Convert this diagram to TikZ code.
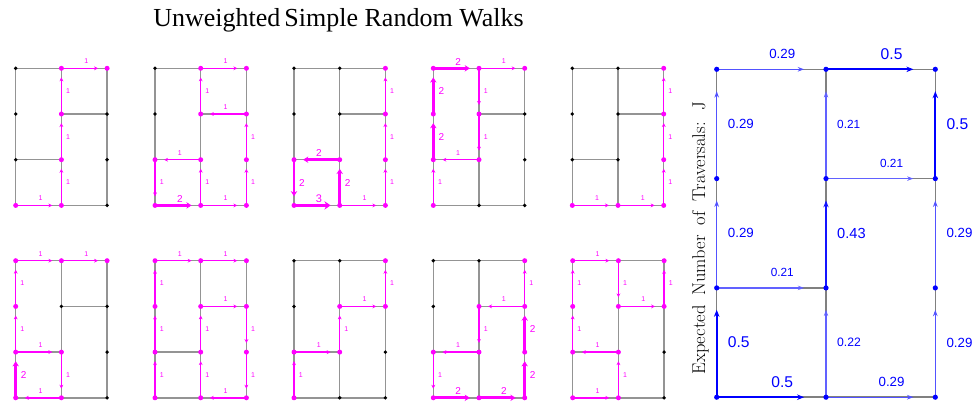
\documentclass[tikz,border=0pt]{standalone}
\usepackage{fontspec}
\newfontfamily\titlefont{Liberation Serif}
\newfontfamily\labfont{Liberation Sans}
\usetikzlibrary{arrows.meta,calc}
\definecolor{mg}{RGB}{255,0,255}
\definecolor{bl}{RGB}{0,0,255}
\tikzset{
  sbase/.style={draw=black!42, line width=1.4pt},
  bbase/.style={draw=black!50, line width=1.5pt},
  bdot/.style={circle, fill=black, inner sep=0pt, minimum size=3.8pt},
  mdot/.style={circle, fill=mg, inner sep=0pt, minimum size=5pt},
  bldot/.style={circle, fill=bl, inner sep=0pt, minimum size=5.2pt},
  marr/.style={draw=mg, -{Stealth[length=2.5pt 1, width=1pt 2]}, shorten >=9.1pt},
  mw1/.style={line width=1.4pt}, mw2/.style={line width=2.7pt}, mw3/.style={line width=3.6pt},
  mlab/.style={text=mg, inner sep=0pt},
  mlab1/.style={mlab, font=\labfont\fontsize{7}{8}\selectfont},
  mlab2/.style={mlab, font=\labfont\fontsize{10}{11}\selectfont},
  mlab3/.style={mlab, font=\labfont\fontsize{11}{12}\selectfont},
  hl1/.style={xshift=2pt, yshift=7pt}, hl2/.style={xshift=2pt, yshift=6.5pt}, hl3/.style={xshift=2pt, yshift=7pt},
  vl1/.style={xshift=6.7pt}, vl2/.style={xshift=8pt}, vl3/.style={xshift=8pt},
  barr/.style={-{Stealth[length=5pt 1, width=2.5pt 1.5]}, shorten >=21.9pt},
  bw50/.style={draw=bl, line width=2pt},
  bw43/.style={draw=bl!92, line width=1.8pt},
  bw29/.style={draw=bl!68, line width=1.4pt},
  bw21/.style={draw=bl!62, line width=1.25pt},
  bw22/.style={draw=bl!62, line width=1.25pt},
  blab/.style={text=bl, inner sep=0pt},
  bl50/.style={blab, font=\labfont\fontsize{15.6}{16}\selectfont},
  bl43/.style={blab, font=\labfont\fontsize{14.6}{15}\selectfont},
  bl29/.style={blab, font=\labfont\fontsize{13.3}{14}\selectfont},
  bl21/.style={blab, font=\labfont\fontsize{11.8}{12}\selectfont},
  bl22/.style={blab, font=\labfont\fontsize{12.2}{13}\selectfont},
}
\newcommand\SmallGraph[3]{%
  \foreach \c in {0,1,2}{\foreach \r in {0,1,2,3}{\coordinate (g#1n\c\r) at ({#2+45.7*\c},{#3+45.7*\r});}}
  \foreach \a/\b in {00/10,10/20,11/21,02/12,03/13,13/23,00/01,01/02,02/03,10/11,11/12,12/13,20/21,21/22,22/23}
    {\draw[sbase] (g#1n\a) -- (g#1n\b);}
  \foreach \p in {00,10,20,01,11,21,02,12,22,03,13,23}{\node[bdot] (g#1d\p) at (g#1n\p) {};}
}
\newcommand\Visit[2]{\foreach \p in {#2}{\node[mdot] (g#1m\p) at (g#1n\p) {};}}
\newcommand\MagH[4]{%
  \draw[marr, mw#4] (g#1n#2.center) -- (g#1n#3.center);
  \node[mlab#4, hl#4] (g#1l#2#3) at ($(g#1n#2)!0.5!(g#1n#3)$) {#4};
}
\newcommand\MagV[4]{%
  \draw[marr, mw#4] (g#1n#2.center) -- (g#1n#3.center);
  \node[mlab#4, vl#4] (g#1l#2#3) at ($(g#1n#2)!0.5!(g#1n#3)$) {#4};
}
\newcommand\BigH[4]{%
  \draw[barr, bw#3] (B#1.center) -- (B#2.center);
  \node[bl#3, yshift=15.5pt] (BL#1#2) at ($(B#1)!0.6!(B#2)$) {#4};
}
\newcommand\BigV[4]{%
  \draw[barr, bw#3] (B#1.center) -- (B#2.center);
  \node[bl#3, anchor=west, xshift=11pt] (BL#1#2) at ($(B#1)!0.5!(B#2)$) {#4};
}
\begin{document}
\begin{tikzpicture}[x=1pt,y=-1pt]
\useasboundingbox (0,0) rectangle (974,402);
\node[font=\titlefont\fontsize{26}{28}\selectfont] (title) at (338.5,20) {Unweighted\hspace{4pt}Simple Random Walks};

% ---- graph 1
\SmallGraph{1}{15.7}{68.3}
\MagH{1}{03}{13}{1}\MagV{1}{13}{12}{1}\MagV{1}{12}{11}{1}\MagV{1}{11}{10}{1}\MagH{1}{10}{20}{1}
\Visit{1}{03,13,12,11,10,20}
% ---- graph 2
\SmallGraph{2}{155}{68.3}
\MagH{2}{03}{13}{2}\MagV{2}{13}{12}{1}\MagH{2}{12}{02}{1}\MagV{2}{02}{03}{1}\MagH{2}{13}{23}{1}
\MagV{2}{23}{22}{1}\MagV{2}{22}{21}{1}\MagH{2}{21}{11}{1}\MagV{2}{11}{10}{1}\MagH{2}{10}{20}{1}
\Visit{2}{10,20,11,21,02,12,22,03,13,23}
% ---- graph 3
\SmallGraph{3}{294}{68.3}
\MagH{3}{03}{13}{3}\MagV{3}{13}{12}{2}\MagH{3}{12}{02}{2}\MagV{3}{02}{03}{2}\MagH{3}{13}{23}{1}
\MagV{3}{23}{22}{1}\MagV{3}{22}{21}{1}\MagV{3}{21}{20}{1}
\Visit{3}{20,21,22,02,12,03,13,23}
% ---- graph 4
\SmallGraph{4}{433.3}{68.3}
\MagV{4}{03}{02}{1}\MagV{4}{02}{01}{2}\MagV{4}{01}{00}{2}\MagH{4}{00}{10}{2}\MagV{4}{10}{11}{1}
\MagV{4}{11}{12}{1}\MagH{4}{12}{02}{1}\MagH{4}{10}{20}{1}
\Visit{4}{00,10,20,01,11,02,12,03}
% ---- graph 5
\SmallGraph{5}{572.3}{68.3}
\MagH{5}{03}{13}{1}\MagH{5}{13}{23}{1}\MagV{5}{23}{22}{1}\MagV{5}{22}{21}{1}\MagV{5}{21}{20}{1}
\Visit{5}{20,21,22,03,13,23}
% ---- graph 6
\SmallGraph{6}{15.7}{260.7}
\MagV{6}{03}{02}{2}\MagH{6}{02}{12}{1}\MagV{6}{12}{13}{1}\MagH{6}{13}{03}{1}\MagV{6}{02}{01}{1}
\MagV{6}{01}{00}{1}\MagH{6}{00}{10}{1}\MagH{6}{10}{20}{1}
\Visit{6}{00,10,20,01,02,12,03,13}
% ---- graph 7
\SmallGraph{7}{155}{260.7}
\MagV{7}{03}{02}{1}\MagV{7}{02}{01}{1}\MagV{7}{01}{00}{1}\MagH{7}{00}{10}{1}\MagH{7}{10}{20}{1}
\MagH{7}{11}{21}{1}\MagV{7}{12}{11}{1}\MagV{7}{13}{12}{1}\MagV{7}{21}{22}{1}\MagV{7}{22}{23}{1}\MagH{7}{23}{13}{1}
\Visit{7}{00,10,20,01,11,21,02,12,22,03,13,23}
% ---- graph 8
\SmallGraph{8}{294}{260.7}
\MagV{8}{03}{02}{1}\MagH{8}{02}{12}{1}\MagV{8}{12}{11}{1}\MagH{8}{11}{21}{1}\MagV{8}{21}{20}{1}
\Visit{8}{20,11,21,02,12,03}
% ---- graph 9
\SmallGraph{9}{433.3}{260.7}
\MagH{9}{03}{13}{2}\MagH{9}{13}{23}{2}\MagV{9}{23}{22}{2}\MagV{9}{22}{21}{2}\MagH{9}{21}{11}{1}
\MagV{9}{11}{12}{1}\MagH{9}{12}{02}{1}\MagV{9}{02}{03}{1}\MagV{9}{21}{20}{1}
\Visit{9}{20,11,21,02,12,22,03,13,23}
% ---- graph 10
\SmallGraph{10}{572.7}{260.7}
\MagH{10}{03}{13}{1}\MagV{10}{13}{12}{1}\MagH{10}{12}{02}{1}\MagV{10}{02}{01}{1}\MagV{10}{01}{00}{1}
\MagH{10}{00}{10}{1}\MagV{10}{10}{11}{1}\MagH{10}{11}{21}{1}\MagV{10}{21}{20}{1}
\Visit{10}{00,10,20,01,11,21,02,12,03,13}

% ---- big graph
\foreach \c in {0,1,2}{\foreach \r in {0,1,2,3}{\coordinate (B\c\r) at ({716.7+109.3*\c},{69.3+109.3*\r});}}
\foreach \a/\b in {00/10,10/20,11/21,02/12,03/13,13/23,00/01,01/02,02/03,10/11,11/12,12/13,20/21,21/22,22/23}
  {\draw[bbase] (B\a) -- (B\b);}
\BigH{00}{10}{29}{0.29}
\BigH{10}{20}{50}{0.5}
\BigH{11}{21}{21}{0.21}
\BigH{02}{12}{21}{0.21}
\BigH{03}{13}{50}{0.5}
\BigH{13}{23}{29}{0.29}
\BigV{01}{00}{29}{0.29}
\BigV{02}{01}{29}{0.29}
\BigV{03}{02}{50}{0.5}
\BigV{11}{10}{21}{0.21}
\BigV{12}{11}{43}{0.43}
\BigV{13}{12}{22}{0.22}
\BigV{21}{20}{50}{0.5}
\BigV{22}{21}{29}{0.29}
\BigV{23}{22}{29}{0.29}
\foreach \p in {00,10,20,01,11,21,02,12,22,03,13,23}{\node[bldot] (Bd\p) at (B\p) {};}
\node[rotate=90, anchor=base, font=\fontsize{18.5}{20}\selectfont] (ylab) at (705,238) {\spaceskip=0.55em Expected Number of Traversals: J};
\end{tikzpicture}
\end{document}
